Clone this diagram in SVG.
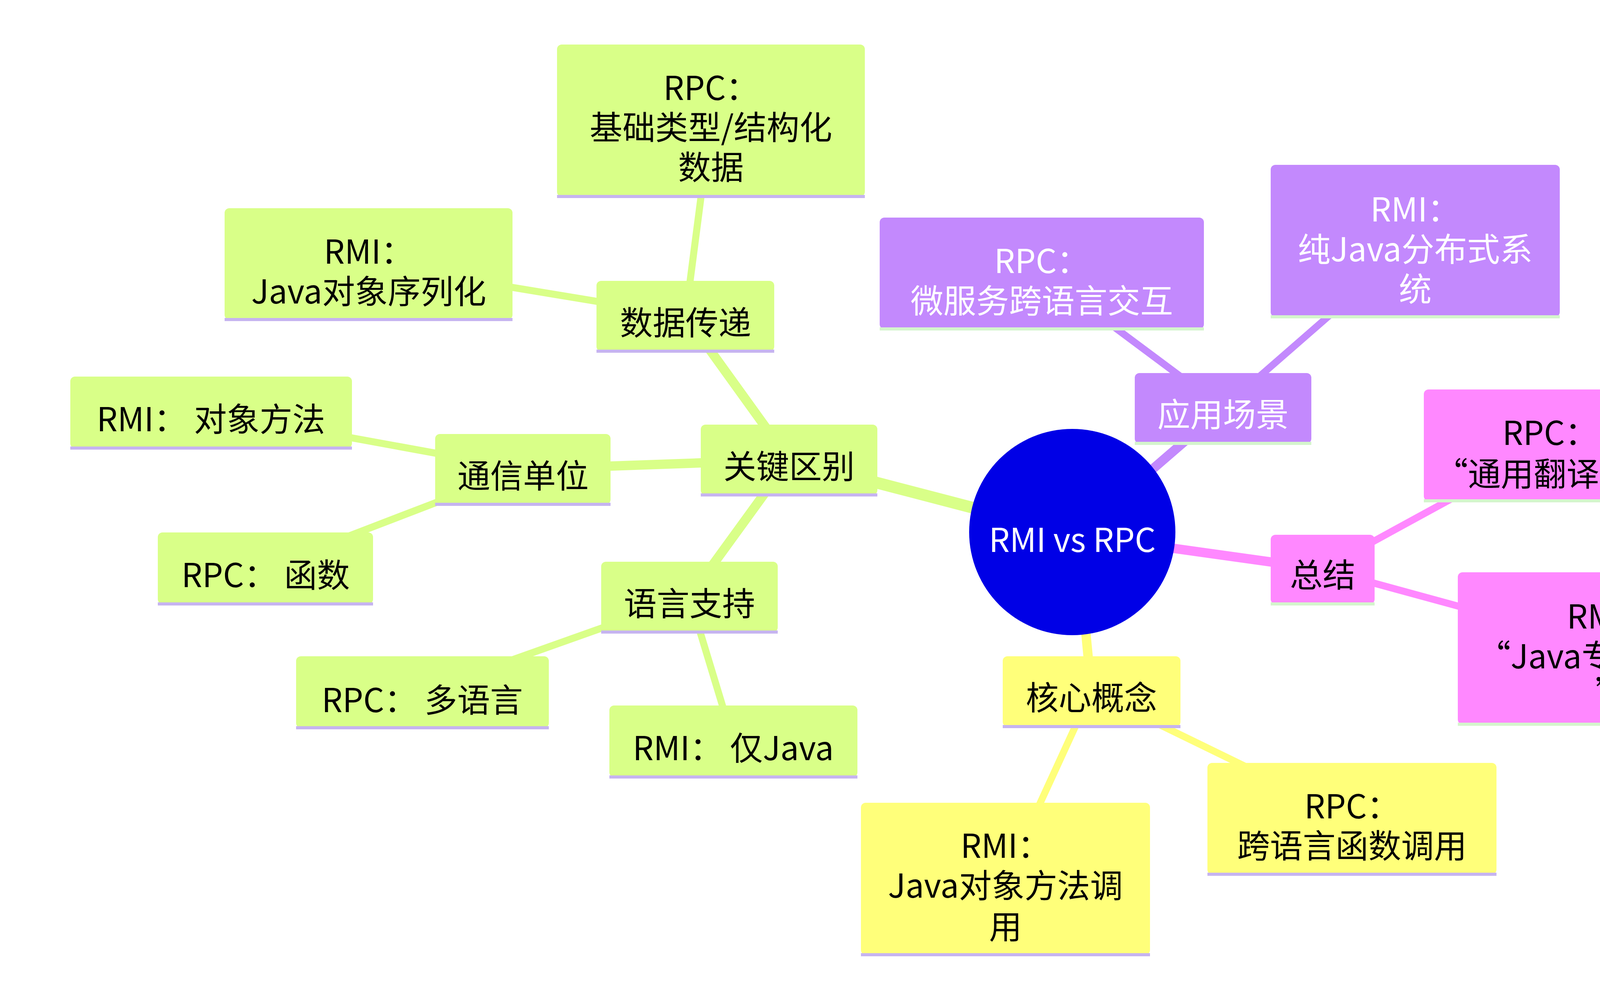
<svg xmlns="http://www.w3.org/2000/svg" width="4672" height="2542" viewBox="0 0 4672 2542">
<style>
text{font-family:"Noto Sans CJK SC","Noto Sans",sans-serif;font-size:84px;text-anchor:middle;dominant-baseline:central}
rect{rx:12px}
.g rect{fill:#d9ff88}.p rect{fill:#c389fd}.k rect{fill:#ff88ff}.y rect{fill:#ffff7a}
.g line.u,.y line.u{stroke:#c6b4f0;stroke-width:8}
.p line.u,.k line.u{stroke:#d4f5cc;stroke-width:8}
.p text{fill:#fff}
.e line{stroke-linecap:round}
.eg{stroke:#d9ff88}.ep{stroke:#c389fd}.ek{stroke:#ff88ff}.ey{stroke:#ffff7a}
</style>
<rect width="4672" height="2542" fill="#fff" style="rx:0"/>
<g id="edges" class="e">
<line class="eg" x1="2756" y1="1369" x2="2020" y2="1177" stroke-width="30"/>
<line class="ep" x1="2756" y1="1369" x2="3131" y2="1045" stroke-width="24"/>
<line class="ek" x1="2756" y1="1369" x2="3386" y2="1457" stroke-width="24"/>
<line class="ey" x1="2756" y1="1369" x2="2794" y2="1770" stroke-width="24"/>
<line class="eg" x1="2020" y1="1177" x2="1755" y2="809" stroke-width="24"/>
<line class="eg" x1="2020" y1="1177" x2="1339" y2="1201" stroke-width="24"/>
<line class="eg" x1="2020" y1="1177" x2="1765" y2="1528" stroke-width="24"/>
<line class="eg" x1="1755" y1="809" x2="1820" y2="308" stroke-width="18"/>
<line class="eg" x1="1755" y1="809" x2="944" y2="675" stroke-width="18"/>
<line class="eg" x1="1339" y1="1201" x2="540" y2="1055" stroke-width="18"/>
<line class="eg" x1="1339" y1="1201" x2="680" y2="1454" stroke-width="18"/>
<line class="eg" x1="1765" y1="1528" x2="1081" y2="1771" stroke-width="18"/>
<line class="eg" x1="1765" y1="1528" x2="1877" y2="1897" stroke-width="18"/>
<line class="ep" x1="3131" y1="1045" x2="2667" y2="699" stroke-width="18"/>
<line class="ep" x1="3131" y1="1045" x2="3623" y2="616" stroke-width="18"/>
<line class="ek" x1="3386" y1="1457" x2="3968" y2="1139" stroke-width="18"/>
<line class="ek" x1="3386" y1="1457" x2="4126" y2="1659" stroke-width="18"/>
<line class="ey" x1="2794" y1="1770" x2="3461" y2="2095" stroke-width="18"/>
<line class="ey" x1="2794" y1="1770" x2="2574" y2="2249" stroke-width="18"/>
</g>
<g id="root"><circle cx="2745" cy="1362" r="264" fill="#0000e6"/><text x="2745" y="1376" fill="#fff">RMI vs RPC</text></g>
<g id="n1" class="g"><rect x="1794" y="1087" width="452" height="180"/><line class="u" x1="1794" y1="1267" x2="2246" y2="1267"/><text x="2020" y="1188">关键区别</text></g>
<g id="n2" class="g"><rect x="1527" y="719" width="455" height="180"/><line class="u" x1="1527" y1="899" x2="1982" y2="899"/><text x="1755" y="820">数据传递</text></g>
<g id="n3" class="g"><rect x="1114" y="1111" width="449" height="180"/><line class="u" x1="1114" y1="1291" x2="1563" y2="1291"/><text x="1339" y="1212">通信单位</text></g>
<g id="n4" class="g"><rect x="1539" y="1438" width="452" height="180"/><line class="u" x1="1539" y1="1618" x2="1991" y2="1618"/><text x="1765" y="1539">语言支持</text></g>
<g id="n5" class="g"><rect x="1426" y="114" width="788" height="389"/><line class="u" x1="1426" y1="503" x2="2214" y2="503"/><text x="1820" y="219">RPC：</text><text x="1820" y="320">基础类型/结构化</text><text x="1820" y="422">数据</text></g>
<g id="n6" class="g"><rect x="575" y="533" width="737" height="285"/><line class="u" x1="575" y1="818" x2="1312" y2="818"/><text x="944" y="638">RMI：</text><text x="944" y="740">Java对象序列化</text></g>
<g id="n7" class="g"><rect x="180" y="964" width="721" height="183"/><line class="u" x1="180" y1="1147" x2="901" y2="1147"/><text x="540" y="1067">RMI： 对象方法</text></g>
<g id="n8" class="g"><rect x="404" y="1363" width="551" height="183"/><line class="u" x1="404" y1="1546" x2="955" y2="1546"/><text x="680" y="1466">RPC： 函数</text></g>
<g id="n9" class="g"><rect x="758" y="1680" width="647" height="183"/><line class="u" x1="758" y1="1863" x2="1405" y2="1863"/><text x="1081" y="1786">RPC： 多语言</text></g>
<g id="n10" class="g"><rect x="1560" y="1806" width="635" height="183"/><line class="u" x1="1560" y1="1989" x2="2195" y2="1989"/><text x="1877" y="1909">RMI： 仅Java</text></g>
<g id="n11" class="p"><rect x="2905" y="955" width="452" height="180"/><line class="u" x1="2905" y1="1135" x2="3357" y2="1135"/><text x="3131" y="1055">应用场景</text></g>
<g id="n12" class="p"><rect x="2252" y="557" width="830" height="285"/><line class="u" x1="2252" y1="842" x2="3082" y2="842"/><text x="2667" y="662">RPC：</text><text x="2667" y="764">微服务跨语言交互</text></g>
<g id="n13" class="p"><rect x="3253" y="422" width="740" height="389"/><line class="u" x1="3253" y1="811" x2="3993" y2="811"/><text x="3623" y="530">RMI：</text><text x="3623" y="632">纯Java分布式系</text><text x="3623" y="734">统</text></g>
<g id="n14" class="k"><rect x="3253" y="1369" width="266" height="177"/><line class="u" x1="3253" y1="1546" x2="3519" y2="1546"/><text x="3386" y="1466">总结</text></g>
<g id="n15" class="k"><rect x="3645" y="997" width="647" height="285"/><line class="u" x1="3645" y1="1282" x2="4292" y2="1282"/><text x="3968" y="1102">RPC：</text><text x="3968" y="1207">“通用翻译官”</text></g>
<g id="n16" class="k"><rect x="3732" y="1465" width="788" height="389"/><line class="u" x1="3732" y1="1854" x2="4520" y2="1854"/><text x="4126" y="1572">RMI：</text><text x="4126" y="1674">“Java专属快递员</text><text x="4126" y="1767">”</text></g>
<g id="n17" class="y"><rect x="2567" y="1680" width="455" height="180"/><line class="u" x1="2567" y1="1860" x2="3022" y2="1860"/><text x="2794" y="1780">核心概念</text></g>
<g id="n18" class="y"><rect x="3091" y="1953" width="740" height="285"/><line class="u" x1="3091" y1="2238" x2="3831" y2="2238"/><text x="3461" y="2058">RPC：</text><text x="3461" y="2159">跨语言函数调用</text></g>
<g id="n19" class="y"><rect x="2204" y="2055" width="740" height="389"/><line class="u" x1="2204" y1="2444" x2="2944" y2="2444"/><text x="2574" y="2159">RMI：</text><text x="2574" y="2261">Java对象方法调</text><text x="2574" y="2366">用</text></g>
</svg>
